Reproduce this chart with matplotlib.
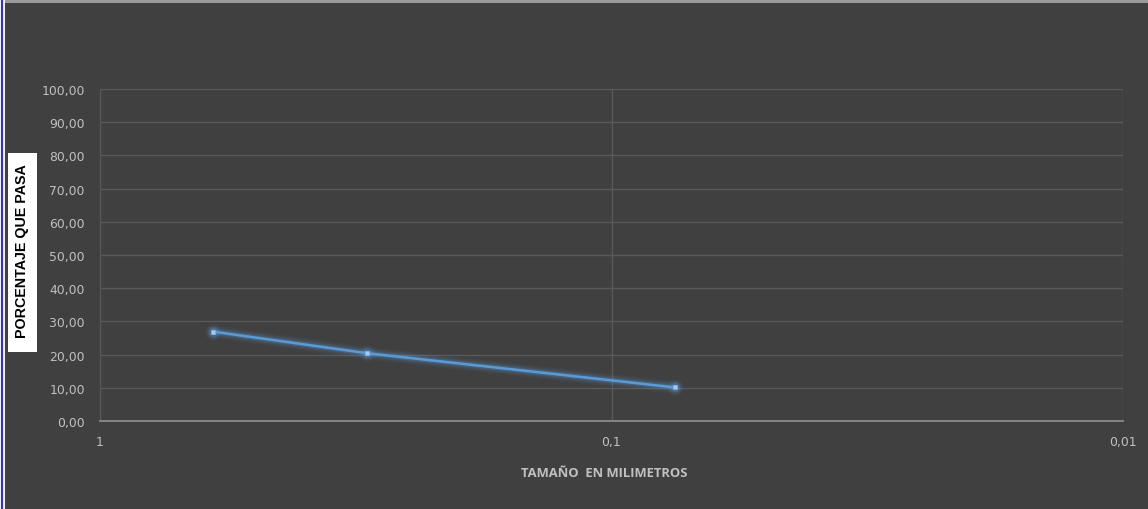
import matplotlib
matplotlib.use("Agg")
import matplotlib.pyplot as plt
from matplotlib.patches import Rectangle
from matplotlib.ticker import FixedLocator, FixedFormatter, NullLocator

# Granulometric curve data
tamano_mm = [0.6, 0.3, 0.075]
porcentaje_pasa = [26.9, 20.4, 10.1]

y_ticks = [0, 10, 20, 30, 40, 50, 60, 70, 80, 90, 100]
y_tick_labels = ["0,00", "10,00", "20,00", "30,00", "40,00", "50,00",
                 "60,00", "70,00", "80,00", "90,00", "100,00"]
x_ticks = [1, 0.1, 0.01]
x_tick_labels = ["1", "0,1", "0,01"]

BG = "#404040"
GRID = "#595959"
TXT = "#c0c0c0"
LINE = "#5b9bd5"

W, H = 1148, 510
fig = plt.figure(figsize=(W / 100, H / 100), dpi=100)
fig.patch.set_facecolor(BG)

# sheet edges around the chart object
fig.add_artist(Rectangle((0, 0), 5 / W, 1, transform=fig.transFigure,
                         facecolor="#f2f2f2", edgecolor="none", zorder=5))
fig.add_artist(Rectangle((1 / W, 0), 2 / W, 1, transform=fig.transFigure,
                         facecolor="#2b2bff", edgecolor="none", zorder=6))
fig.add_artist(Rectangle((0, 1 - 1 / H), 1, 1 / H, transform=fig.transFigure,
                         facecolor="#000000", edgecolor="none", zorder=6))
fig.add_artist(Rectangle((5 / W, 1 - 4 / H), 1, 3 / H, transform=fig.transFigure,
                         facecolor="#9a9a9a", edgecolor="none", zorder=5))

left, right, top, bottom = 100, 1123, 90, 422
ax = fig.add_axes([left / W, 1 - bottom / H, (right - left) / W, (bottom - top) / H])
ax.set_facecolor(BG)

ax.set_xscale("log")
ax.set_xlim(1, 0.01)
ax.set_ylim(0, 100)

ax.xaxis.set_major_locator(FixedLocator(x_ticks))
ax.xaxis.set_major_formatter(FixedFormatter(x_tick_labels))
ax.xaxis.set_minor_locator(NullLocator())
ax.yaxis.set_major_locator(FixedLocator(y_ticks))
ax.yaxis.set_major_formatter(FixedFormatter(y_tick_labels))

ax.grid(True, which="major", color=GRID, linewidth=1.0)
ax.set_axisbelow(True)

for side in ["top", "right"]:
    ax.spines[side].set_visible(False)
ax.spines["left"].set_color(GRID)
ax.spines["bottom"].set_color("#8a8a8a")
ax.spines["bottom"].set_linewidth(1.3)

ax.tick_params(axis="both", length=0, colors=TXT)
ax.tick_params(axis="y", pad=11)
ax.tick_params(axis="x", pad=10)
for lab in ax.get_xticklabels() + ax.get_yticklabels():
    lab.set_fontfamily("DejaVu Sans")
    lab.set_fontsize(8.9)

# soft glow beneath the series
for lw, a in [(9, 0.06), (7, 0.08), (5, 0.12), (3.5, 0.18)]:
    ax.plot(tamano_mm, porcentaje_pasa, color=LINE, linewidth=lw, alpha=a,
            solid_capstyle="round", zorder=3)
    ax.plot(tamano_mm, porcentaje_pasa, linestyle="none", marker="o",
            markersize=lw + 3, color=LINE, alpha=a, markeredgewidth=0, zorder=3)
ax.plot(tamano_mm, porcentaje_pasa, color=LINE, linewidth=1.8, zorder=4,
        marker="s", markersize=3.5, markerfacecolor="#a9c8ec",
        markeredgecolor="#7fb0e3", markeredgewidth=0.6)

ax.set_xlabel("TAMAÑO  EN MILIMETROS", color=TXT, fontsize=9.4,
              fontweight="bold", fontfamily="Open Sans", labelpad=11)
ax.xaxis.set_label_coords((604.5 - left) / (right - left), -0.137)

# boxed vertical axis title
fig.add_artist(Rectangle((8 / W, 1 - 353 / H), 29 / W, 199 / H,
                         transform=fig.transFigure, facecolor="#ffffff",
                         edgecolor="none", zorder=2))
fig.text(22.5 / W, 1 - 251 / H, "PORCENTAJE QUE PASA", rotation=90,
         ha="center", va="center", fontsize=10.3, fontweight="bold",
         fontfamily="Liberation Sans", color="#000000", zorder=3)

fig.savefig("out.png", dpi=100, facecolor=BG)
